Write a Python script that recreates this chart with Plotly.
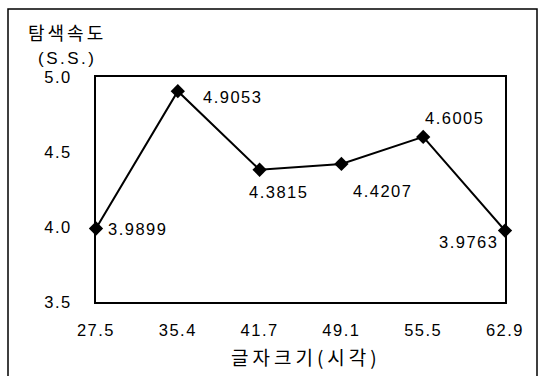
import plotly.graph_objects as go

categories = ["27.5", "35.4", "41.7", "49.1", "55.5", "62.9"]
values = [3.9899, 4.9053, 4.3815, 4.4207, 4.6005, 3.9763]
value_labels = ["3.9899", "4.9053", "4.3815", "4.4207", "4.6005", "3.9763"]
y_ticks = [3.5, 4.0, 4.5, 5.0]
y_ticklabels = ["3.5", "4.0", "4.5", "5.0"]
y_title_lines = ["탐색속도", "(S.S.)"]
x_title = "글자크기(시각)"

W, H = 543, 376
ML, MR, MT, MB = 96, 38, 77, 74
PW, PH = W - ML - MR, H - MT - MB

FONT = "Liberation Sans, Arial, sans-serif"
KFONT = "Noto Sans CJK KR, sans-serif"
FS = 16.5


def spaced(t, ls):
    return '<span style="letter-spacing:%.1fpx">%s</span>' % (ls, t)


# label placement (pixel offsets) per point
label_style = [
    dict(xanchor="left", yanchor="middle", xshift=10, yshift=0),
    dict(xanchor="left", yanchor="middle", xshift=23, yshift=-6),
    dict(xanchor="center", yanchor="middle", xshift=19, yshift=-22),
    dict(xanchor="center", yanchor="middle", xshift=41, yshift=-27),
    dict(xanchor="center", yanchor="middle", xshift=31, yshift=19),
    dict(xanchor="right", yanchor="middle", xshift=-5, yshift=-11),
]

fig = go.Figure()
fig.add_trace(go.Scatter(
    x=categories, y=values, mode="lines+markers",
    line=dict(color="black", width=2),
    marker=dict(symbol="diamond", size=11, color="black"),
    cliponaxis=False, showlegend=False,
))

fig.update_layout(
    width=W, height=H,
    margin=dict(l=ML, r=MR, t=MT, b=MB),
    paper_bgcolor="white", plot_bgcolor="white",
    font=dict(family=FONT, size=FS, color="black"),
    xaxis=dict(type="category", range=[0, 5], showgrid=False, zeroline=False,
               showline=True, linecolor="black", linewidth=2, mirror=True,
               ticks="", automargin=False, ticklabelstandoff=12,
               tickvals=categories, ticktext=[spaced(c, 1.5) for c in categories],
               tickfont=dict(family=FONT, size=FS)),
    yaxis=dict(range=[3.5, 5.0], tickvals=y_ticks,
               ticktext=[spaced(t, 1.5) for t in y_ticklabels],
               showgrid=False, zeroline=False, showline=True, linecolor="black",
               linewidth=2, mirror=True, ticks="", ticklabelstandoff=19,
               automargin=False, tickfont=dict(family=FONT, size=FS)),
)

annots = []
for i, (v, t, s) in enumerate(zip(values, value_labels, label_style)):
    annots.append(dict(x=i, y=v, xref="x", yref="y", text=spaced(t, 1.5), showarrow=False,
                       font=dict(family=FONT, size=FS, color="black"), **s))

# y-axis title (two lines) at top-left
annots.append(dict(xref="paper", yref="paper", x=(67 - ML) / PW,
                   y=1 + (MT - 32) / PH, xanchor="center", yanchor="middle",
                   text=spaced(y_title_lines[0], 3), showarrow=False,
                   font=dict(family=KFONT, size=18, color="black")))
annots.append(dict(xref="paper", yref="paper", x=(67 - ML) / PW,
                   y=1 + (MT - 59) / PH, xanchor="center", yanchor="middle",
                   text=spaced(y_title_lines[1], 2.5), showarrow=False,
                   font=dict(family=FONT, size=17, color="black")))
# x-axis title
annots.append(dict(xref="paper", yref="paper", x=(306 - ML) / PW,
                   y=-(356 - (H - MB)) / PH, xanchor="center", yanchor="middle",
                   text=spaced(x_title, 4), showarrow=False,
                   font=dict(family=KFONT, size=19, color="black")))
fig.update_layout(annotations=annots)

# outer frame
fig.add_shape(type="rect", xref="paper", yref="paper",
              x0=(8 - ML) / PW, x1=(537 - ML) / PW,
              y0=-(385 - (H - MB)) / PH, y1=1 + (MT - 9) / PH,
              line=dict(color="black", width=1.5), layer="below")

fig.write_html("out.html", config={"displayModeBar": False},
               post_script="document.body.style.margin='0';document.body.style.overflow='hidden';")
